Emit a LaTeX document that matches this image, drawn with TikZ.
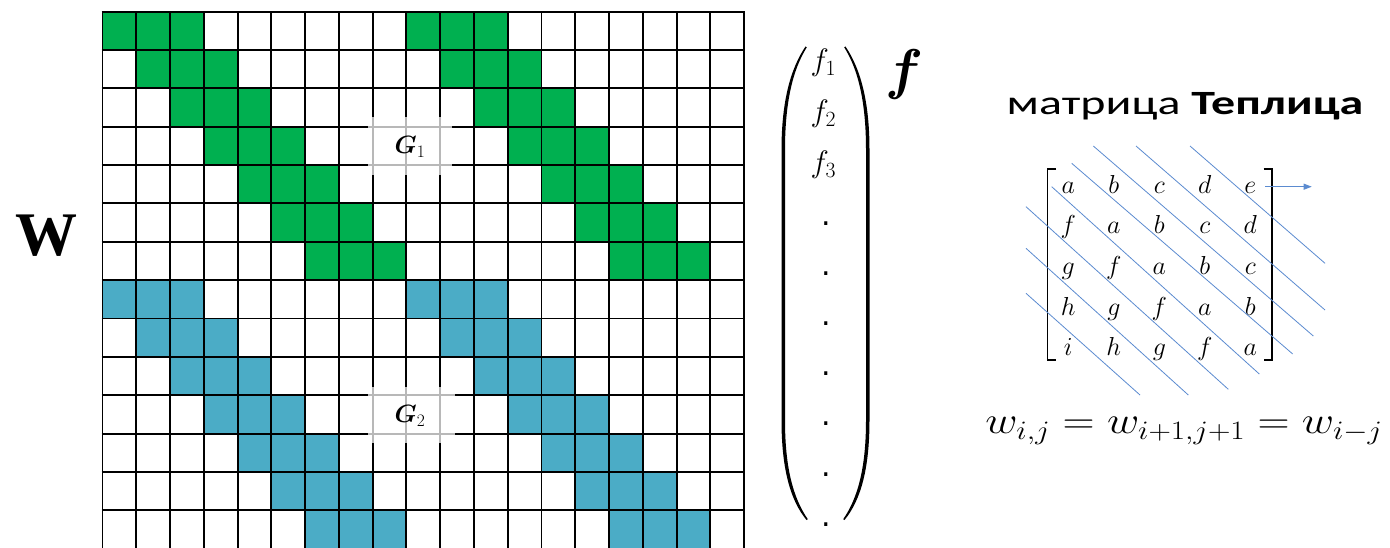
\RequirePackage{fix-cm}
\documentclass[tikz,border=0pt]{standalone}
\usepackage{amsmath,bm}
\usepackage{fontspec}
\usetikzlibrary{arrows.meta}
\newfontfamily\carlito{Carlito}
\newfontfamily\libserif{Liberation Serif}
\newfontfamily\dejavu{DejaVu Sans}
\definecolor{grn}{HTML}{00B050}
\definecolor{aqua}{HTML}{4BACC6}
\definecolor{lineblue}{HTML}{5B8BD0}
\tikzset{
  gridline/.style={black, line width=1.9pt},
  overlay box/.style={white, opacity=0.72},
  glabel/.style={inner sep=0pt, font=\fontsize{25}{29}\selectfont},
  fentry/.style={inner sep=0pt, font=\fontsize{31}{36}\selectfont},
  fdot/.style={inner sep=0pt, font=\fontsize{30}{36}\selectfont\dejavu},
  tentry/.style={inner sep=0pt, anchor=base, font=\fontsize{26}{30}\selectfont},
  diag/.style={lineblue, line width=0.8pt},
  bracket/.style={black, line width=1.8pt},
}
\begin{document}
\begin{tikzpicture}[x=1pt,y=-1pt]
\useasboundingbox (0,0) rectangle (1390,548);
\fill[white] (0,0) rectangle (1390,548);
\def\cx{102.5}\def\cw{33.77}\def\ry{11.7}\def\rh{38.35}
% coloured cells
\foreach \r in {0,...,6}{
  \foreach \c in {0,1,2,9,10,11}{
    \fill[grn] ({\cx+(\r+\c)*\cw},{\ry+\r*\rh}) rectangle ++(\cw,\rh);
    \fill[aqua] ({\cx+(\r+\c)*\cw},{\ry+(\r+7)*\rh}) rectangle ++(\cw,\rh);
  }
}
% grid lines
\foreach \i in {0,...,19}{
  \draw[gridline] ({\cx+\i*\cw},\ry) -- ({\cx+\i*\cw},548);
}
\foreach \j in {0,...,13}{
  \draw[gridline] (\cx-0.95,{\ry+\j*\rh}) -- ({\cx+19*\cw+0.95},{\ry+\j*\rh});
}
% overlay boxes with labels
\fill[overlay box] (368.3,116.7) rectangle (451.7,175);
\node[glabel] (g1) at (410,147) {$\bm{G}_1$};
\fill[overlay box] (368.3,386.7) rectangle (455,443.3);
\node[glabel] (g2) at (410,416) {$\bm{G}_2$};
% W
\node[inner sep=0pt, font=\fontsize{62}{70}\selectfont\libserif\bfseries] (W) at (46.5,235.5) {W};
% vector parentheses
\fill (805.5,46.5) .. controls (791,68) and (781.5,100) .. (781.5,150) -- (781.5,420)
  .. controls (781.5,468) and (790,500) .. (806.5,520) -- (807.8,519.2)
  .. controls (792.5,497) and (785,466) .. (785,420) -- (785,150)
  .. controls (785,103) and (792.5,70) .. (806.8,47.3) -- cycle;
\fill (845.5,46.5) .. controls (860,68) and (869.5,100) .. (869.5,150) -- (869.5,420)
  .. controls (869.5,468) and (861,500) .. (844.5,520) -- (843.2,519.2)
  .. controls (858.5,497) and (866,466) .. (866,420) -- (866,150)
  .. controls (866,103) and (858.5,70) .. (844.2,47.3) -- cycle;
\node[fentry] (f1) at (823.3,63) {$f_1$};
\node[fentry] (f2) at (823.3,114) {$f_2$};
\node[fentry] (f3) at (823.3,165) {$f_3$};
\foreach \k in {0,...,6}{
  \node[fdot] (dot\k) at (826,{223.3+\k*50.2}) {.};
}
\node[inner sep=0pt, font=\fontsize{56}{60}\selectfont] (fvec) at (904,75) {$\bm{f}$};
% title
\node[inner sep=0pt, anchor=base, font=\fontsize{34}{40}\selectfont\carlito] (title) at (1185,115) {\scalebox{1.41}[1]{матрица \textbf{Теплица}}};
% Toeplitz matrix entries
\foreach \row [count=\r from 0] in {{a,b,c,d,e},{f,a,b,c,d},{g,f,a,b,c},{h,g,f,a,b},{i,h,g,f,a}}{
  \foreach \l [count=\c from 0] in \row {
    \node[tentry] (t\r\c) at ({1068.3+\c*45.5},{193.5+\r*40.5}) {$\l$};
  }
}
% brackets
\draw[bracket] (1056,169.3) -- (1047.5,169.3) -- (1047.5,360) -- (1056,360);
\draw[bracket] (1263.5,169.3) -- (1272,169.3) -- (1272,360) -- (1263.5,360);
% diagonal lines
\draw[diag] (1190,146) -- (1325,263.3);
\draw[diag] (1136,146) -- (1325,310);
\draw[diag] (1093.3,146) -- (1313.3,336);
\draw[diag] (1071.7,163.3) -- (1292.7,354);
\draw[diag] (1051.7,186.7) -- (1259.3,374);
\draw[diag] (1026,206.7) -- (1228.3,389.3);
\draw[diag] (1026,248.3) -- (1188.3,395);
\draw[diag] (1026,293.3) -- (1140,395);
% arrow
\coordinate (arrS) at (1265,186.7);
\coordinate (arrE) at (1311.7,186.7);
\draw[diag, -{Triangle[length=8pt,width=6pt]}] (arrS) -- (arrE);
% equation
\node[inner sep=0pt, anchor=base, font=\fontsize{38}{44}\selectfont] (eq) at (1184,433.3) {\scalebox{1.17}[1]{$w_{i,j}=w_{i+1,j+1}=w_{i-j}$}};
\end{tikzpicture}
\end{document}
